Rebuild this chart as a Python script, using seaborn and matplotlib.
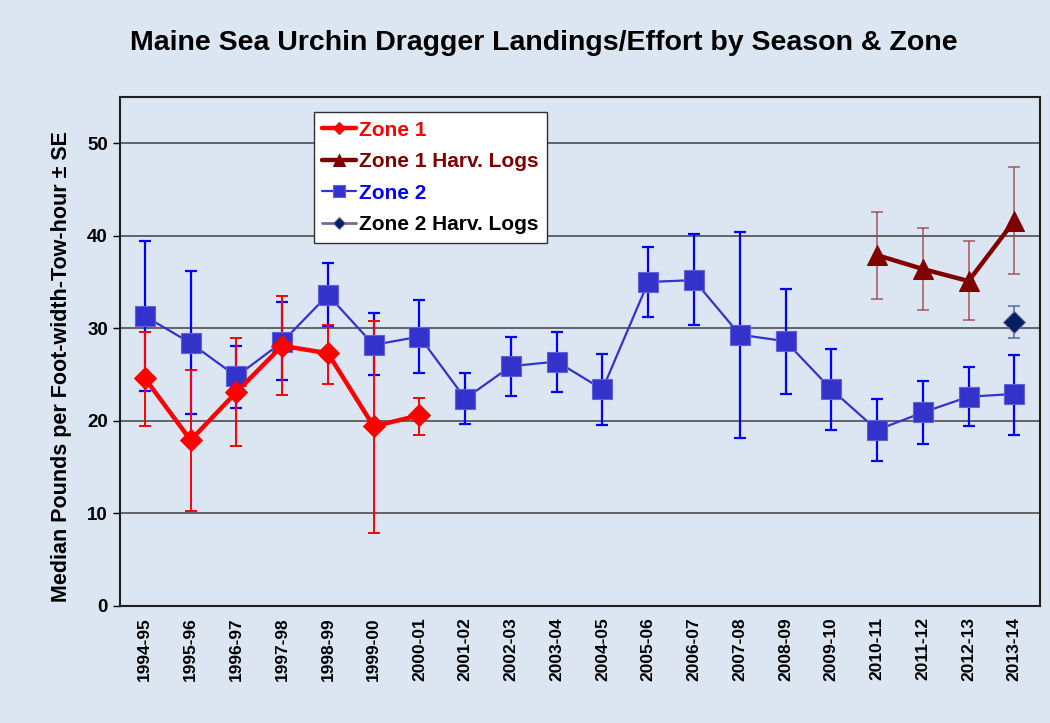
import matplotlib
matplotlib.use("Agg")
import matplotlib.pyplot as plt
import seaborn as sns
import numpy as np
import pandas as pd

seasons = ["1994-95", "1995-96", "1996-97", "1997-98", "1998-99", "1999-00", "2000-01",
           "2001-02", "2002-03", "2003-04", "2004-05", "2005-06", "2006-07", "2007-08",
           "2008-09", "2009-10", "2010-11", "2011-12", "2012-13", "2013-14"]

# Zone 1 (first 7 seasons)
zone1 = [24.6, 17.9, 23.1, 28.1, 27.3, 19.4, 20.6]
zone1_hi = [29.6, 25.5, 28.9, 33.5, 30.4, 30.8, 22.5]
zone1_lo = [19.4, 10.2, 17.3, 22.8, 24.0, 7.9, 18.5]

# Zone 2 (all seasons)
zone2 = [31.3, 28.4, 24.8, 28.5, 33.6, 28.2, 29.1, 22.4, 25.9, 26.4,
         23.4, 35.0, 35.2, 29.3, 28.6, 23.4, 19.0, 20.9, 22.6, 22.9]
zone2_hi = [39.4, 36.2, 28.1, 32.8, 37.1, 31.6, 33.0, 25.2, 29.1, 29.6,
            27.2, 38.8, 40.2, 40.4, 34.2, 27.8, 22.4, 24.3, 25.8, 27.1]
zone2_lo = [23.2, 20.7, 21.4, 24.4, 30.2, 25.0, 25.2, 19.6, 22.7, 23.1,
            19.5, 31.2, 30.3, 18.1, 22.9, 19.0, 15.7, 17.5, 19.4, 18.5]

# Zone 1 harvester logs (last 4 seasons)
zone1_logs = [37.9, 36.4, 35.1, 41.6]
zone1_logs_hi = [42.6, 40.8, 39.4, 47.4]
zone1_logs_lo = [33.2, 32.0, 30.9, 35.9]

# Zone 2 harvester logs (last season)
zone2_logs = [30.7]
zone2_logs_hi = [32.4]
zone2_logs_lo = [28.9]

BG = "#dce6f2"

sns.set_style("white", {"axes.facecolor": BG, "figure.facecolor": BG})
plt.rcParams["font.family"] = ["Liberation Sans", "DejaVu Sans"]
for k in ["text.color", "axes.labelcolor", "xtick.color", "ytick.color"]:
    plt.rcParams[k] = "black"

fig = plt.figure(figsize=(10.5, 7.23), dpi=100)
ax = fig.add_axes([0.114, 0.162, 0.876, 0.704])

x_all = np.arange(len(seasons))
df1 = pd.DataFrame({"x": x_all[:7], "y": zone1, "lo": zone1_lo, "hi": zone1_hi})
df2 = pd.DataFrame({"x": x_all, "y": zone2, "lo": zone2_lo, "hi": zone2_hi})
df1l = pd.DataFrame({"x": x_all[-4:], "y": zone1_logs, "lo": zone1_logs_lo, "hi": zone1_logs_hi})
df2l = pd.DataFrame({"x": x_all[-1:], "y": zone2_logs, "lo": zone2_logs_lo, "hi": zone2_logs_hi})

def err(ax, d, color, lw, alpha=1.0):
    ax.errorbar(d["x"], d["y"], yerr=[d["y"] - d["lo"], d["hi"] - d["y"]],
                fmt="none", ecolor=color, elinewidth=lw, capsize=4.5, capthick=lw,
                alpha=alpha, zorder=2)

err(ax, df2, "#0000ff", 1.6)
err(ax, df1, "#ff0000", 1.4)
err(ax, df1l, "#a04048", 1.2, 0.8)
err(ax, df2l, "#5070a0", 1.4, 0.8)

sns.lineplot(data=df2, x="x", y="y", ax=ax, color="#3333cc", lw=1.6, marker="s",
             markersize=14, markeredgecolor="#6060dd", markeredgewidth=0.8,
             label="Zone 2", zorder=3)
sns.lineplot(data=df1, x="x", y="y", ax=ax, color="#ff0000", lw=3.2, marker="D",
             markersize=11, markeredgecolor="#ff0000", label="Zone 1", zorder=4)
sns.lineplot(data=df1l, x="x", y="y", ax=ax, color="#800000", lw=3.2, marker="^",
             markersize=14, markeredgecolor="#800000", label="Zone 1 Harv. Logs", zorder=4)
sns.lineplot(data=df2l, x="x", y="y", ax=ax, color="#8064a2", lw=2, marker="D",
             markersize=11, markerfacecolor="#002060", markeredgecolor="#8064a2",
             label="Zone 2 Harv. Logs", zorder=4)

ax.set_xlim(-0.55, len(seasons) - 0.45)
ax.set_ylim(0, 55)
ax.set_yticks([0, 10, 20, 30, 40, 50])
ax.set_xticks(x_all)
ax.set_xticklabels(seasons, rotation=90, fontsize=12.5, fontweight="bold")
for t in ax.get_yticklabels():
    t.set_fontsize(13.5)
    t.set_fontweight("bold")
ax.tick_params(axis="x", length=0, pad=8)
ax.tick_params(axis="y", length=5, direction="out", left=True, width=1)
ax.yaxis.grid(True, color="#404040", lw=1.1)
ax.set_axisbelow(True)
for s in ax.spines.values():
    s.set_color("#202020")
    s.set_linewidth(1.5)
ax.set_xlabel("")
ax.set_ylabel("Median Pounds per Foot-width-Tow-hour \u00b1 SE", fontsize=15.5,
              fontweight="bold")
ax.yaxis.set_label_coords(-0.052, 0.47)

fig.suptitle("Maine Sea Urchin Dragger Landings/Effort by Season & Zone",
             x=0.518, y=0.958, fontsize=20.5, fontweight="bold")

h, l = ax.get_legend_handles_labels()
order = [l.index(n) for n in ["Zone 1", "Zone 1 Harv. Logs", "Zone 2", "Zone 2 Harv. Logs"]]
leg = ax.legend([h[i] for i in order], [l[i] for i in order], loc="upper left",
                bbox_to_anchor=(0.2, 0.99), frameon=True, fancybox=False,
                handlelength=1.6, handletextpad=0.15, borderpad=0.4, labelspacing=0.6,
                prop={"size": 15, "weight": "bold"}, markerscale=0.6)
leg.get_frame().set_edgecolor("#303030")
leg.get_frame().set_facecolor("white")
leg.get_frame().set_alpha(1)
for txt, c in zip(leg.get_texts(), ["#ff0000", "#800000", "#0000ff", "#000000"]):
    txt.set_color(c)

fig.savefig("out.png", dpi=100, facecolor=BG)
